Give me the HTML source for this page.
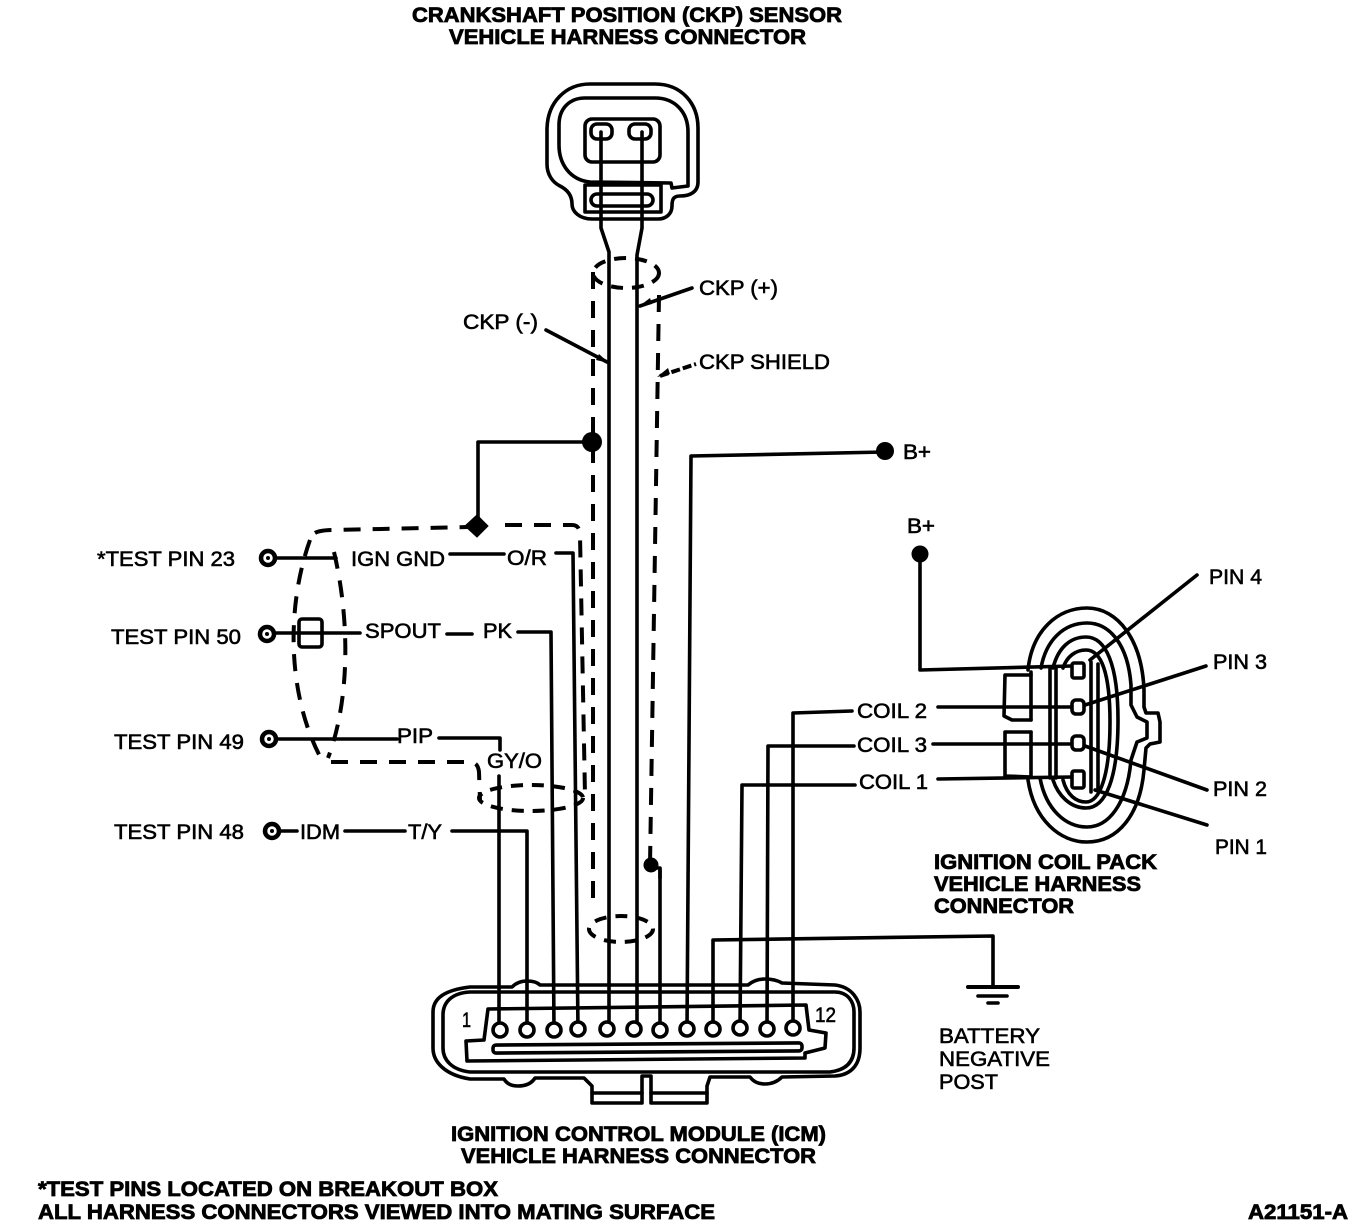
<!DOCTYPE html>
<html><head><meta charset="utf-8"><style>
html,body{margin:0;padding:0;background:#fff;overflow:hidden}
svg{display:block}
text{font-family:"Liberation Sans",sans-serif;font-size:21px;fill:#000;stroke:#000;stroke-width:.6}
text.b{font-weight:bold;stroke-width:.8}
.l{fill:none;stroke:#000;stroke-width:3.6;stroke-linejoin:round;stroke-linecap:round}
.d{fill:none;stroke:#000;stroke-width:4;stroke-dasharray:17 12}
.s{fill:none;stroke:#000;stroke-width:4;stroke-dasharray:12 9}
.p{fill:#fff;stroke:#000;stroke-width:3.6}
</style></head><body>
<svg width="1360" height="1226" viewBox="0 0 1360 1226" xmlns="http://www.w3.org/2000/svg">
<rect width="1360" height="1226" fill="#fff"/>
<!-- titles -->
<text class="b" x="412" y="22" textLength="430" lengthAdjust="spacingAndGlyphs">CRANKSHAFT POSITION (CKP) SENSOR</text>
<text class="b" x="449" y="44" textLength="357" lengthAdjust="spacingAndGlyphs">VEHICLE HARNESS CONNECTOR</text>
<!-- CKP connector -->
<path class="l" d="M590 84H655C682 84 698 104 698 128V182C698 192 690 196 680 196C673 196 672 200 672 206C672 214 666 219 658 219H592C580 219 572 212 572 204C572 196 568 190 560 186C552 182 547 174 547 164V130C547 102 566 84 590 84Z"/>
<path class="l" d="M585 98H655C675 98 688 112 688 132V186L672 188L671 183L590 182C570 180 559 164 559 145V125C559 108 570 98 585 98Z"/>
<rect class="l" x="585" y="119" width="75" height="43" rx="7"/>
<rect class="l" x="591" y="124" width="21" height="15" rx="6"/>
<rect class="l" x="629" y="124" width="22" height="15" rx="6"/>
<rect class="l" x="585" y="185" width="76" height="27"/>
<rect class="l" x="591" y="194" width="62" height="12" rx="6"/>
<!-- CKP wires -->
<path class="l" d="M601 132V228L609 252V1030"/>
<path class="l" d="M642 132V228L637 255V1030"/>
<ellipse class="s" cx="626" cy="273" rx="33" ry="15"/>
<ellipse class="s" cx="621" cy="929" rx="32" ry="13"/>
<path class="d" d="M593 272V900"/>
<path class="d" d="M659 295L650 865"/>
<path class="l" d="M640 306L692 288"/>
<path d="M638 307L650 298L652 304Z"/>
<path class="l" d="M546 330L607 362"/>
<path d="M609 363L596 360L599 354Z"/>
<path class="s" d="M660 376L696 364" style="stroke-dasharray:9 3"/>
<path d="M657 377L668 368L670 374Z"/>
<text x="699" y="295" textLength="79" lengthAdjust="spacingAndGlyphs">CKP (+)</text>
<text x="463" y="329" textLength="75" lengthAdjust="spacingAndGlyphs">CKP (-)</text>
<text x="699" y="369" textLength="131" lengthAdjust="spacingAndGlyphs">CKP SHIELD</text>
<!-- ground tie -->
<circle cx="592" cy="442" r="10"/>
<path class="l" d="M592 442H478V527"/>
<path d="M477 515L488 526L477 537L465 526Z" stroke="#000" stroke-width="1"/>
<!-- left shield -->
<path class="d" d="M315 533Q320 530 335 530L468 527"/>
<path class="d" d="M505 525H572Q580 525 580 535L585 795"/>
<path class="d" d="M310 540C285 610 288 700 323 762"/>
<path class="d" d="M334 552C350 620 350 700 328 758"/>
<path class="d" d="M331 762H470Q478 762 479 772L480 800"/>
<ellipse class="s" cx="531" cy="798" rx="52" ry="13"/>
<!-- test pins -->
<g fill="#fff" stroke="#000" stroke-width="4.5">
<circle cx="268" cy="558" r="7"/><circle cx="267" cy="634" r="7"/><circle cx="269" cy="739" r="7"/><circle cx="272" cy="831" r="7"/>
</g>
<circle cx="268" cy="558" r="2"/><circle cx="267" cy="634" r="2"/><circle cx="269" cy="739" r="2"/><circle cx="272" cy="831" r="2"/>
<text x="97" y="566" textLength="138" lengthAdjust="spacingAndGlyphs">*TEST PIN 23</text>
<text x="111" y="644" textLength="130" lengthAdjust="spacingAndGlyphs">TEST PIN 50</text>
<text x="114" y="749" textLength="130" lengthAdjust="spacingAndGlyphs">TEST PIN 49</text>
<text x="114" y="839" textLength="130" lengthAdjust="spacingAndGlyphs">TEST PIN 48</text>
<path class="l" d="M276 558H336"/>
<path class="l" d="M275 633H360"/>
<rect class="l" x="299" y="619" width="23" height="28" rx="3"/>
<path class="l" d="M277 739H397"/>
<path class="l" d="M281 831H297"/>
<text x="351" y="566" textLength="94" lengthAdjust="spacingAndGlyphs">IGN GND</text>
<text x="507" y="565" textLength="40" lengthAdjust="spacingAndGlyphs">O/R</text>
<text x="365" y="638" textLength="76" lengthAdjust="spacingAndGlyphs">SPOUT</text>
<text x="483" y="638" textLength="29" lengthAdjust="spacingAndGlyphs">PK</text>
<text x="397" y="743" textLength="36" lengthAdjust="spacingAndGlyphs">PIP</text>
<text x="487" y="768" textLength="55" lengthAdjust="spacingAndGlyphs">GY/O</text>
<text x="300" y="839" textLength="40" lengthAdjust="spacingAndGlyphs">IDM</text>
<text x="408" y="839" textLength="34" lengthAdjust="spacingAndGlyphs">T/Y</text>
<path class="l" d="M450 554H504"/>
<path class="l" d="M556 553H573L578 1030"/>
<path class="l" d="M447 634H472"/>
<path class="l" d="M518 632H551L554 1030"/>
<path class="l" d="M439 738H500V750"/>
<path class="l" d="M499 776V1030"/>
<path class="l" d="M345 831H405"/>
<path class="l" d="M452 831H527V1030"/>
<!-- remaining ICM wires -->
<path class="l" d="M660 1030V870"/>
<circle cx="651" cy="865" r="7.5"/>
<path class="l" d="M651 868H660V878"/>
<path class="l" d="M687 1030L691 456L885 452"/>
<circle cx="885" cy="451" r="9"/>
<text x="903" y="459" textLength="28" lengthAdjust="spacingAndGlyphs">B+</text>
<path class="l" d="M713 1030V940L993 936V986"/>
<path class="l" d="M968 987H1018" style="stroke-width:4"/>
<path class="l" d="M978 996H1007"/>
<path class="l" d="M988 1003H998"/>
<path class="l" d="M740 1030L742 785H855"/>
<path class="l" d="M767 1030L768 746H854"/>
<path class="l" d="M793 1030V713L852 711"/>
<text x="857" y="718" textLength="70" lengthAdjust="spacingAndGlyphs">COIL 2</text>
<text x="857" y="752" textLength="70" lengthAdjust="spacingAndGlyphs">COIL 3</text>
<text x="859" y="789" textLength="69" lengthAdjust="spacingAndGlyphs">COIL 1</text>
<!-- ICM connector -->
<path class="l" d="M470 987H512Q518 981 527 981Q536 981 540 985H748Q755 979 765 979Q775 979 782 983L835 985C852 987 860 1000 860 1012V1048C860 1066 850 1075 835 1076L782 1077Q775 1084 765 1084Q755 1084 750 1077H710L707 1086V1103H651V1076H642V1103H592V1086L584 1078H535Q530 1086 518 1086Q508 1086 504 1079H470C445 1075 433 1062 433 1048V1012C433 998 445 990 470 987Z"/>
<path class="l" d="M470 992H835C848 992 854 1002 854 1012V1048C854 1062 846 1070 830 1072H470C452 1070 443 1060 443 1048V1015C443 1002 452 993 470 992Z"/>
<path class="l" d="M488 1009L806 1005L809 1030L826 1033L825 1048L805 1053V1058L467 1061L466 1041L484 1040Z"/>
<rect class="l" x="493" y="1044" width="309" height="8" rx="3" transform="rotate(-.4 647 1048)"/>
<path class="l" d="M592 1093H642M651 1093H707"/>
<g class="p">
<circle cx="500" cy="1030" r="7"/><circle cx="527" cy="1030" r="7"/><circle cx="554" cy="1030" r="7"/><circle cx="578" cy="1029" r="7"/><circle cx="607" cy="1029" r="7"/><circle cx="634" cy="1029" r="7"/><circle cx="660" cy="1030" r="7"/><circle cx="687" cy="1029" r="7"/><circle cx="713" cy="1029" r="7"/><circle cx="740" cy="1028" r="7"/><circle cx="767" cy="1029" r="7"/><circle cx="793" cy="1028" r="7"/>
</g>
<text x="462" y="1027" textLength="9" lengthAdjust="spacingAndGlyphs">1</text>
<text x="815" y="1022" textLength="21" lengthAdjust="spacingAndGlyphs">12</text>
<text x="939" y="1043" textLength="101" lengthAdjust="spacingAndGlyphs">BATTERY</text>
<text x="939" y="1066" textLength="111" lengthAdjust="spacingAndGlyphs">NEGATIVE</text>
<text x="939" y="1089" textLength="59" lengthAdjust="spacingAndGlyphs">POST</text>
<text class="b" x="451" y="1141" textLength="375" lengthAdjust="spacingAndGlyphs">IGNITION CONTROL MODULE (ICM)</text>
<text class="b" x="461" y="1163" textLength="355" lengthAdjust="spacingAndGlyphs">VEHICLE HARNESS CONNECTOR</text>
<text class="b" x="38" y="1196" textLength="460" lengthAdjust="spacingAndGlyphs">*TEST PINS LOCATED ON BREAKOUT BOX</text>
<text class="b" x="38" y="1219" textLength="677" lengthAdjust="spacingAndGlyphs">ALL HARNESS CONNECTORS VIEWED INTO MATING SURFACE</text>
<text class="b" x="1248" y="1219" textLength="100" lengthAdjust="spacingAndGlyphs">A21151-A</text>
<!-- coil connector -->
<path class="l" d="M1028 670C1032 630 1058 608 1087 608C1118 608 1142 640 1144 690V707L1146 713H1158L1160 722V742L1150 744L1146 748L1144 770C1140 815 1118 842 1087 842C1060 842 1034 820 1028 780"/>
<path class="l" d="M1041 668C1046 640 1064 623 1087 623C1110 623 1128 645 1131 685V705L1137 717L1147 722L1147 738L1137 742L1131 760C1127 805 1108 827 1087 827C1066 827 1046 810 1040 778"/>
<path class="l" d="M1053 668C1058 648 1070 637 1086 637C1106 637 1118 665 1118 720C1118 778 1106 808 1086 808C1070 808 1058 795 1053 780"/>
<path class="l" d="M1063 668C1067 656 1076 650 1086 650C1102 650 1110 675 1110 722C1110 775 1100 802 1086 802C1076 802 1067 795 1063 780"/>
<path class="l" d="M1091 662V792M1098 664V790"/>
<path class="l" d="M1050 668V778M1056 668V778"/>
<path class="l" d="M1031 675H1005L1004 716L1012 720H1031"/>
<path class="l" d="M1031 732H1005V776L1031 777"/>
<path class="l" d="M1031 672V720M1031 732V777"/>
<circle cx="920" cy="554" r="8.5"/>
<path class="l" d="M920 556V670L1072 666"/>
<text x="907" y="533" textLength="28" lengthAdjust="spacingAndGlyphs">B+</text>
<path class="l" d="M938 707H1072"/>
<path class="l" d="M933 744H1072"/>
<path class="l" d="M938 779L1072 777"/>
<g fill="#fff" stroke="#000" stroke-width="3.6">
<rect x="1072" y="663" width="12" height="15" rx="2"/><rect x="1072" y="700" width="12" height="14" rx="4"/><rect x="1072" y="736" width="12" height="14" rx="4"/><rect x="1072" y="771" width="12" height="17" rx="2"/>
</g>
<path class="l" d="M1197 575L1090 660"/>
<path class="l" d="M1206 666L1085 705"/>
<path class="l" d="M1207 790L1085 746"/>
<path class="l" d="M1207 825L1095 790"/>
<text x="1209" y="584" textLength="53" lengthAdjust="spacingAndGlyphs">PIN 4</text>
<text x="1213" y="669" textLength="54" lengthAdjust="spacingAndGlyphs">PIN 3</text>
<text x="1213" y="796" textLength="54" lengthAdjust="spacingAndGlyphs">PIN 2</text>
<text x="1215" y="854" textLength="52" lengthAdjust="spacingAndGlyphs">PIN 1</text>
<text class="b" x="934" y="869" textLength="223" lengthAdjust="spacingAndGlyphs">IGNITION COIL PACK</text>
<text class="b" x="934" y="891" textLength="207" lengthAdjust="spacingAndGlyphs">VEHICLE HARNESS</text>
<text class="b" x="934" y="913" textLength="140" lengthAdjust="spacingAndGlyphs">CONNECTOR</text>
</svg>
</body></html>
